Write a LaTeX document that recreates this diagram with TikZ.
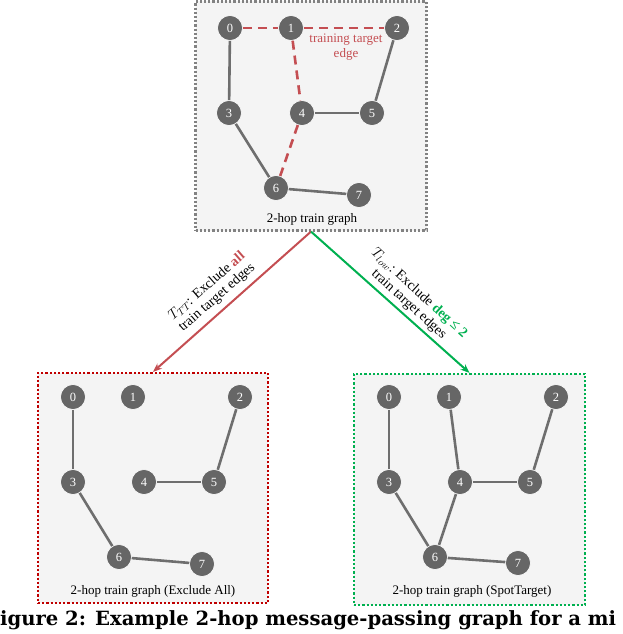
\documentclass[tikz,border=0pt]{standalone}
\usepackage{fontspec}
\setmainfont{Liberation Serif}
\newfontfamily\capfont{DejaVu Serif}
\usetikzlibrary{arrows.meta}
\definecolor{ngray}{RGB}{102,102,102}
\definecolor{egray}{RGB}{110,110,110}
\definecolor{boxfill}{RGB}{244,244,244}
\definecolor{tred}{RGB}{196,78,82}
\definecolor{dred}{RGB}{192,0,0}
\definecolor{tgreen}{RGB}{0,176,80}
\definecolor{bgray}{RGB}{130,130,130}
\begin{document}
\begin{tikzpicture}[x=1pt,y=-1pt,
  vtx/.style={circle,fill=ngray,draw=white,line width=0.6pt,minimum size=25pt,inner sep=0pt,text=white,font=\fontsize{12.5}{12.5}\selectfont},
  edge/.style={draw=egray,line width=2.6pt},
  tedge/.style={draw=tred,line width=2.6pt,dash pattern=on 9pt off 6pt},
  gbox/.style={rectangle,fill=boxfill,minimum width=#1,inner sep=0pt},
  lbl/.style={font=\fontsize{13}{13}\selectfont,text=black},
  arr/.style={line width=2pt,-{Stealth[length=9pt,width=7pt]}},
  alabel/.style={font=\fontsize{14}{15}\selectfont,align=center,inner sep=0pt}
]
\useasboundingbox (0,0) rectangle (622,634);
% boxes
\node[gbox=231pt,minimum height=229pt,draw=bgray,line width=2.2pt,dotted] (topbox) at (311,116) {};
\node[gbox=230pt,minimum height=230pt,draw=dred,line width=2.2pt,dotted] (leftbox) at (153,488) {};
\node[gbox=231pt,minimum height=231pt,draw=tgreen,line width=2.2pt,dotted] (rightbox) at (469.5,489.5) {};
% top graph
\node[vtx] (t0) at (230,28) {0};
\node[vtx] (t1) at (291,28) {1};
\node[vtx] (t2) at (397,28) {2};
\node[vtx] (t3) at (229,113) {3};
\node[vtx] (t4) at (302,113) {4};
\node[vtx] (t5) at (372,113) {5};
\node[vtx] (t6) at (276,188) {6};
\node[vtx] (t7) at (359,195) {7};
\draw[edge] (t0) -- (t3);
\draw[edge] (t2) -- (t5);
\draw[edge] (t4) -- (t5);
\draw[edge] (t3) -- (t6);
\draw[edge] (t6) -- (t7);
\draw[tedge] (t0) -- (t1);
\draw[tedge] (t1) -- (t2);
\draw[tedge] (t1) -- (t4);
\draw[tedge] (t4) -- (t6);
\node[lbl,text=tred,align=center,font=\fontsize{13}{15}\selectfont] (tte) at (346,47) {training target\\edge};
\node[lbl] (tl) at (312,219) {2-hop train graph};
% left graph
\node[vtx] (l0) at (73,397) {0};
\node[vtx] (l1) at (133,397) {1};
\node[vtx] (l2) at (240,397) {2};
\node[vtx] (l3) at (73,482) {3};
\node[vtx] (l4) at (144,482) {4};
\node[vtx] (l5) at (214,482) {5};
\node[vtx] (l6) at (119,557) {6};
\node[vtx] (l7) at (202,564) {7};
\draw[edge] (l0) -- (l3);
\draw[edge] (l2) -- (l5);
\draw[edge] (l4) -- (l5);
\draw[edge] (l3) -- (l6);
\draw[edge] (l6) -- (l7);
\node[lbl] (ll) at (153,591) {2-hop train graph (Exclude All)};
% right graph
\node[vtx] (r0) at (389,397) {0};
\node[vtx] (r1) at (449,397) {1};
\node[vtx] (r2) at (556,397) {2};
\node[vtx] (r3) at (389,482) {3};
\node[vtx] (r4) at (460,482) {4};
\node[vtx] (r5) at (530,482) {5};
\node[vtx] (r6) at (435,557) {6};
\node[vtx] (r7) at (518,563) {7};
\draw[edge] (r0) -- (r3);
\draw[edge] (r1) -- (r4);
\draw[edge] (r2) -- (r5);
\draw[edge] (r4) -- (r5);
\draw[edge] (r3) -- (r6);
\draw[edge] (r4) -- (r6);
\draw[edge] (r6) -- (r7);
\node[lbl] (rl) at (472,591) {2-hop train graph (SpotTarget)};
% arrows
\draw[arr,tred] (topbox.south) -- (leftbox.north);
\draw[arr,tgreen] (topbox.south) -- (rightbox.north);
\node[alabel,rotate=41] (al) at (212,292) {$T_{TT}$: Exclude \textcolor{tred}{\textbf{all}}\\train target edges};
\node[alabel,rotate=-42.5] (ar) at (414,299) {$T_{low}$: Exclude \textcolor{tgreen}{\textbf{deg ≤ 2}}\\train target edges};
% caption
\node[anchor=base west,inner sep=0pt,font=\capfont\fontsize{19.6}{19.6}\selectfont\bfseries] (cap) at (0,625) {igure 2: Example 2-hop message-passing graph for a mi};
\end{tikzpicture}
\end{document}
